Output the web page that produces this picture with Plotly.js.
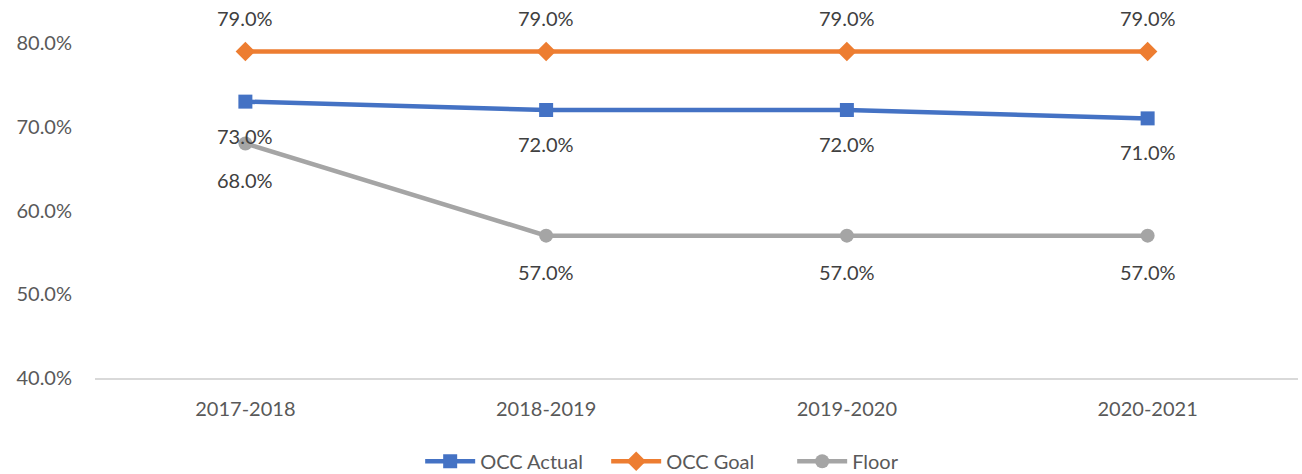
<!DOCTYPE html>
<html>
<head>
<meta charset="utf-8">
<script src="https://cdn.plot.ly/plotly-3.0.1.min.js"></script>
<style>html,body{margin:0;padding:0;background:#fff;}#chart{width:1302px;height:474px;}</style>
</head>
<body>
<div id="chart"></div>
<script>
var categories = ["2017-2018", "2018-2019", "2019-2020", "2020-2021"];
var occActual = [0.73, 0.72, 0.72, 0.71];
var occGoal = [0.79, 0.79, 0.79, 0.79];
var floor = [0.68, 0.57, 0.57, 0.57];
var yTicks = [0.4, 0.5, 0.6, 0.7, 0.8];

var FONT = "Lato, 'Open Sans', sans-serif";
var FS = 20;
var series = [
  {name: "OCC Actual", y: occActual, color: "#4472C4", symbol: "square", size: 14, shift: -34},
  {name: "OCC Goal", y: occGoal, color: "#ED7D31", symbol: "diamond", size: 15, shift: 33},
  {name: "Floor", y: floor, color: "#A5A5A5", symbol: "circle", size: 14, shift: -36}
];

var traces = series.map(function (s) {
  return {
    type: "scatter", mode: "lines+markers", name: s.name,
    x: categories, y: s.y,
    line: {color: s.color, width: 4.5},
    marker: {color: s.color, symbol: s.symbol, size: s.size},
    cliponaxis: false, hoverinfo: "skip"
  };
});

var annotations = [];
series.forEach(function (s) {
  s.y.forEach(function (v, i) {
    annotations.push({
      x: categories[i], y: v, xref: "x", yref: "y",
      text: (v * 100).toFixed(1) + "%", showarrow: false,
      yshift: s.shift, font: {family: FONT, size: FS, color: "#404040"}
    });
  });
});

var layout = {
  width: 1302, height: 474,
  margin: {l: 95, r: 4, t: 43, b: 96, autoexpand: false},
  paper_bgcolor: "#ffffff", plot_bgcolor: "#ffffff",
  font: {family: FONT, size: FS, color: "#595959"},
  xaxis: {
    type: "category", range: [-0.5, 3.5],
    showgrid: false, zeroline: false,
    showline: true, linecolor: "#D9D9D9", linewidth: 1.5,
    ticks: "", tickfont: {family: FONT, size: FS, color: "#595959"},
    ticklabelstandoff: 12, automargin: false
  },
  yaxis: {
    range: [0.4, 0.8], tickvals: yTicks, tickformat: ".1%",
    showgrid: false, zeroline: false, showline: false, ticks: "",
    tickfont: {family: FONT, size: FS, color: "#595959"},
    ticklabelstandoff: 22, automargin: false
  },
  showlegend: true,
  legend: {
    orientation: "h", x: 0.537, xref: "container", xanchor: "center",
    y: 0.027, yref: "container", yanchor: "middle",
    font: {family: FONT, size: FS, color: "#595959"},
    itemwidth: 50, traceorder: "normal",
    entrywidth: 121, entrywidthmode: "pixels"
  },
  annotations: annotations
};

Plotly.newPlot("chart", traces, layout, {displayModeBar: false, staticPlot: true});
</script>
</body>
</html>
